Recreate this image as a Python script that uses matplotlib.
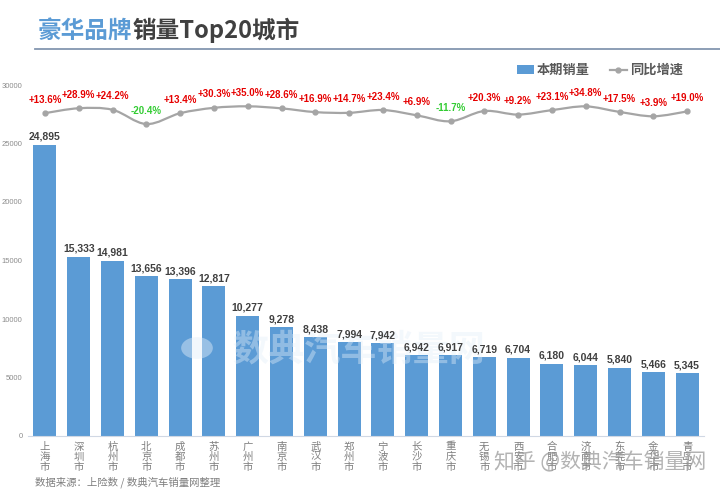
import numpy as np
import matplotlib.pyplot as plt
from matplotlib.path import Path
from matplotlib.patches import PathPatch, Patch, Circle
from matplotlib.lines import Line2D

cities = ["上海市", "深圳市", "杭州市", "北京市", "成都市", "苏州市", "广州市", "南京市", "武汉市", "郑州市",
          "宁波市", "长沙市", "重庆市", "无锡市", "西安市", "合肥市", "济南市", "东莞市", "金华市", "青岛市"]
sales = [24895, 15333, 14981, 13656, 13396, 12817, 10277, 9278, 8438, 7994,
         7942, 6942, 6917, 6719, 6704, 6180, 6044, 5840, 5466, 5345]
growth = [13.6, 28.9, 24.2, -20.4, 13.4, 30.3, 35.0, 28.6, 16.9, 14.7,
          23.4, 6.9, -11.7, 20.3, 9.2, 23.1, 34.8, 17.5, 3.9, 19.0]
yticks = [0, 5000, 10000, 15000, 20000, 25000, 30000]

CJK = ["Noto Sans CJK SC", "DejaVu Sans"]
NUM = ["Liberation Sans", "DejaVu Sans"]
BLUE = "#5b9bd5"
GRAY_LINE = "#a5a5a5"

plt.rcParams["font.family"] = CJK

fig = plt.figure(figsize=(7.2, 4.93), dpi=100)
ax = fig.add_axes([28 / 720, 1 - 436 / 493, 676 / 720, 351 / 493])

x = np.arange(len(cities))
ax.bar(x, sales, width=0.68, color=BLUE, zorder=2)
for xi, v in zip(x, sales):
    ax.annotate(f"{v:,}", (xi, v), xytext=(0, 2), textcoords="offset points",
                ha="center", va="bottom", fontsize=7.5, fontweight="bold",
                color="#404040", family=NUM, zorder=4)

ax.set_xlim(-0.5, len(cities) - 0.5)
ax.set_ylim(0, 30000)
ax.set_yticks(yticks)
ax.set_yticklabels([str(t) for t in yticks], family=NUM, fontsize=5.5, color="#8c8c8c")
ax.tick_params(axis="y", length=0, pad=4)
ax.set_xticks(x)
ax.set_xticklabels(["\n".join(c) for c in cities], fontsize=7.5, color="#7f7f7f",
                   linespacing=1.0, va="top")
ax.tick_params(axis="x", length=0, pad=4)
for s in ["top", "right", "left"]:
    ax.spines[s].set_visible(False)
ax.spines["bottom"].set_color("#d0d8e4")

# faint watermark behind the value labels
ax.add_patch(Circle((197 / 720, 1 - 348 / 493), 0.022, transform=fig.transFigure,
                    facecolor="#e3eef9", edgecolor="none", alpha=0.45, zorder=2.5,
                    clip_on=False))
ax.text(359 / 720, 1 - 350 / 493, "数典汽车销量网", transform=fig.transFigure, fontsize=26,
        fontweight="bold", color="#e3eef9", alpha=0.4, ha="center", va="center", zorder=2.5)

# growth line on hidden secondary axis
ax2 = ax.twinx()
ax2.set_ylim(-995, 101.6)
ax2.axis("off")
g = np.array(growth)
pts = np.column_stack([x, g])
verts = [pts[0]]
codes = [Path.MOVETO]
for i in range(len(pts) - 1):
    p0 = pts[max(i - 1, 0)]
    p1 = pts[i]
    p2 = pts[i + 1]
    p3 = pts[min(i + 2, len(pts) - 1)]
    verts += [p1 + (p2 - p0) / 6.0, p2 - (p3 - p1) / 6.0, p2]
    codes += [Path.CURVE4] * 3
ax2.add_patch(PathPatch(Path(verts, codes), facecolor="none", edgecolor=GRAY_LINE, lw=1.6, zorder=3))
ax2.plot(x, g, "o", color=GRAY_LINE, ms=3.5, zorder=4)
for xi, gv in zip(x, growth):
    ax2.annotate(f"{gv:+.1f}%", (xi, gv), xytext=(0, 6), textcoords="offset points",
                 ha="center", va="bottom", fontsize=7, fontweight="bold",
                 color="#e60000" if gv >= 0 else "#33cc33", family=NUM)

# legend
handles = [Patch(facecolor=BLUE, edgecolor="none"),
           Line2D([], [], color=GRAY_LINE, lw=1.6, marker="o", ms=3.5)]
fig.legend(handles, ["本期销量", "同比增速"], loc="center", bbox_to_anchor=(600 / 720, 1 - 70 / 493),
           ncol=2, frameon=False, prop={"family": CJK, "size": 9.5, "weight": "bold"},
           labelcolor="#595959", handlelength=1.3, handleheight=0.6, columnspacing=1.5,
           handletextpad=0.2)

# title
t1 = fig.text(38 / 720, 1 - 38 / 493, "豪华品牌", fontsize=17, fontweight="bold",
              color=BLUE, ha="left", va="baseline")
ax.annotate("销量Top20城市", xy=(1, 0), xycoords=t1, xytext=(0, 0), textcoords="offset points",
            ha="left", va="bottom", fontsize=17, fontweight="bold", color="#404040",
            annotation_clip=False)
fig.add_artist(Line2D([35 / 720, 1.0], [1 - 49 / 493] * 2, color="#8496b0", lw=1.3))

fig.text(600 / 720, 1 - 462 / 493, "知乎 @数典汽车销量网", fontsize=15,
         color="#9a9a9a", alpha=0.75, ha="center", va="center", zorder=5)

# source
fig.text(35 / 720, 1 - 482 / 493, "数据来源：上险数 / 数典汽车销量网整理", fontsize=7.5,
         color="#7f7f7f", ha="left", va="center")

fig.savefig("out.png", dpi=100)
